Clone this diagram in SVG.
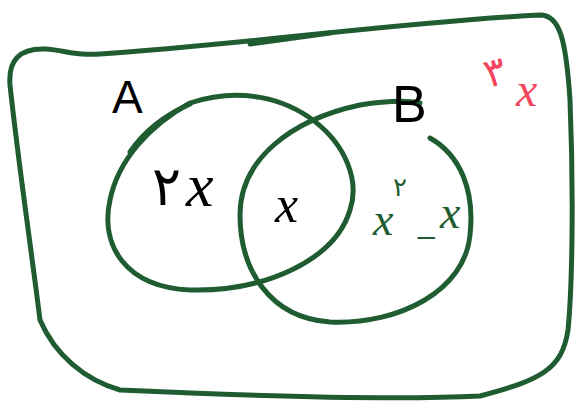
<svg xmlns="http://www.w3.org/2000/svg" width="584" height="414" viewBox="0 0 584 414">
<style>
.g{fill:none;stroke:#1f5c31;stroke-width:5;stroke-linecap:round;stroke-linejoin:round}
.k{font-family:"Liberation Sans","DejaVu Sans",sans-serif}
.x{font-family:"Liberation Serif","DejaVu Serif",serif;font-style:italic}
.fa{font-family:"DejaVu Sans","Noto Sans",sans-serif}
</style>
<rect width="584" height="414" fill="#fff"/>
<g id="universe">
<path class="g" d="M 40,320 C 30,240 18,160 10,85 C 8,60 20,48 45,49 C 65,50 75,56 100,54 C 250,44 400,22 540,15 C 560,15 566,40 570,100 C 574,200 572,290 568,330 C 562,370 540,380 480,396 C 400,400 250,396 120,390 C 85,380 55,355 40,320 Z"/>
<path class="g" d="M 250,44 L 330,33"/>
<text class="fa" x="0" y="0" font-size="40" fill="#f2455d" transform="translate(488,88) rotate(-15)">۳</text>
<text class="x" x="516" y="106" font-size="48" fill="#f2455d">x</text>
</g>
<g id="setA">
<path class="g" d="M 190,103 C 290,70 370,150 350,210 C 335,260 265,292 190,290 C 125,287 100,245 110,200 C 118,160 150,125 190,103"/>
<path class="g" d="M 130,152 C 145,130 165,115 190,104"/>
<text class="k" x="112" y="113" font-size="46" fill="#000">A</text>
<text class="fa" x="152" y="205" font-size="54" fill="#000">۲</text>
<text class="x" x="186" y="206" font-size="62" fill="#000">x</text>
</g>
<g id="setB">
<path class="g" d="M 430,138 C 460,155 475,190 470,235 C 465,290 400,325 330,322 C 270,318 240,270 240,215 C 240,160 290,120 360,105 C 385,101 405,100 420,103"/>
<text class="k" x="392" y="122" font-size="52" fill="#000">B</text>
<text class="x" x="275" y="222" font-size="52" fill="#000">x</text>
<text class="x" x="373" y="235" font-size="46" fill="#1f5c31">x</text>
<text class="fa" x="393" y="196" font-size="26" fill="#1f5c31">۲</text>
<text class="k" x="418" y="233" font-size="30" fill="#1f5c31">_</text>
<text class="x" x="440" y="228" font-size="46" fill="#1f5c31">x</text>
</g>
</svg>
